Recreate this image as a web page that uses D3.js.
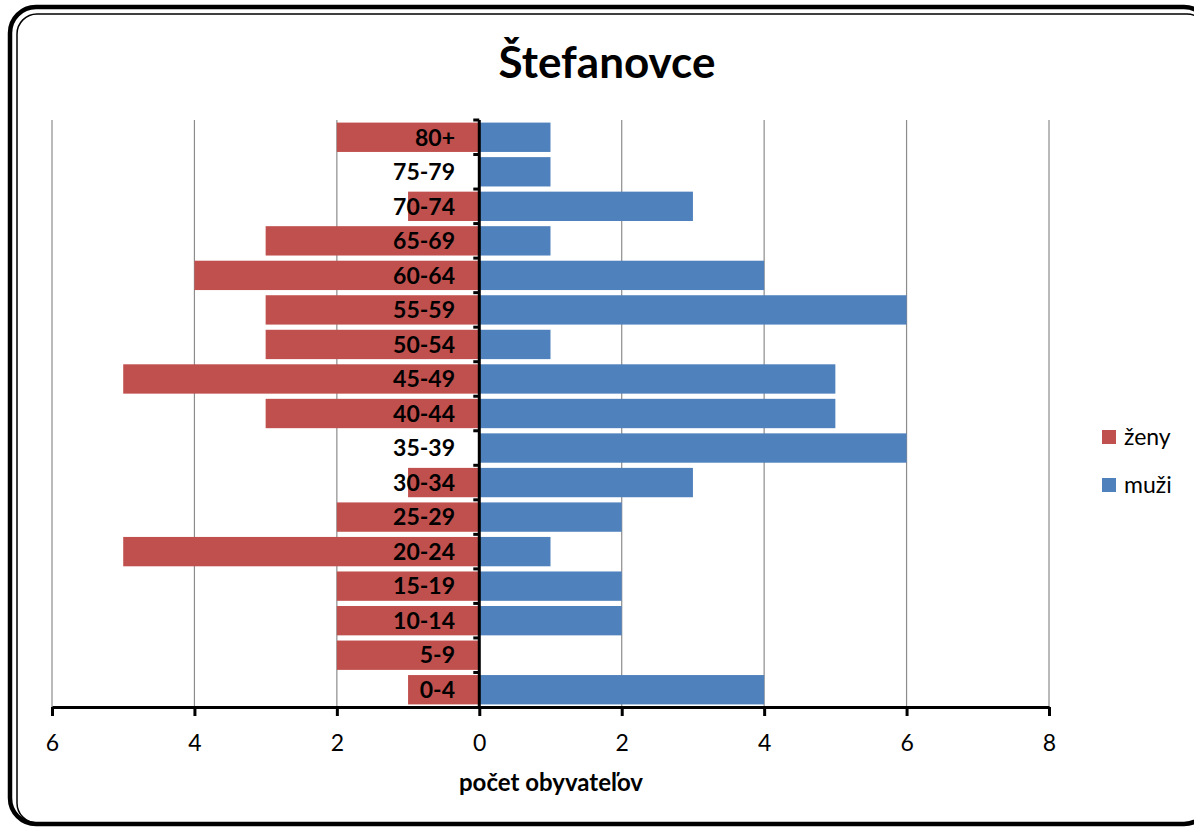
<!DOCTYPE html>
<html>
<head>
<meta charset="utf-8">
<script src="https://cdn.jsdelivr.net/npm/d3@7"></script>
<style>
  body { margin: 0; background: #fff; }
  text { font-family: Lato, "Open Sans", sans-serif; }
</style>
</head>
<body>
<script>
const ageGroups = ["0-4", "5-9", "10-14", "15-19", "20-24", "25-29", "30-34", "35-39",
                   "40-44", "45-49", "50-54", "55-59", "60-64", "65-69", "70-74", "75-79", "80+"];
const zeny = [1, 2, 2, 2, 5, 2, 1, 0, 3, 5, 3, 3, 4, 3, 1, 0, 2];
const muzi = [4, 0, 2, 2, 1, 2, 3, 6, 5, 5, 1, 6, 4, 1, 3, 1, 1];
const xTicks = [-6, -4, -2, 0, 2, 4, 6, 8];

const w = 1194, h = 827;
const svg = d3.select("body").append("svg")
    .attr("width", w)
    .attr("height", h);

// frame: thick outer + thin inner line
svg.append("rect")
    .attr("x", 10).attr("y", 7).attr("width", 1200).attr("height", 817)
    .attr("rx", 26).attr("fill", "none").attr("stroke", "#000").attr("stroke-width", 4.5);
svg.append("rect")
    .attr("x", 17).attr("y", 14).attr("width", 1190).attr("height", 809)
    .attr("rx", 20).attr("fill", "none").attr("stroke", "#000").attr("stroke-width", 1.5);

const x = d3.scaleLinear().domain([-6, 8]).range([52, 1049]);
const y = d3.scaleBand().domain(ageGroups).range([707, 120]).paddingInner(0.15).paddingOuter(0.075);
const step = y.step();

// gridlines
svg.append("g").selectAll("line")
   .data(xTicks.filter(d => d !== 0))
   .enter()
   .append("line")
   .attr("x1", d => x(d)).attr("x2", d => x(d))
   .attr("y1", 120).attr("y2", 707)
   .attr("stroke", "#8c8c8c").attr("stroke-width", 1.2);

// bars
svg.append("g").selectAll("rect")
   .data(ageGroups)
   .enter()
   .append("rect")
   .attr("x", (d, i) => x(-zeny[i]))
   .attr("y", d => y(d))
   .attr("width", (d, i) => x(0) - x(-zeny[i]))
   .attr("height", y.bandwidth())
   .attr("fill", "#C0504D");

svg.append("g").selectAll("rect")
   .data(ageGroups)
   .enter()
   .append("rect")
   .attr("x", x(0))
   .attr("y", d => y(d))
   .attr("width", (d, i) => x(muzi[i]) - x(0))
   .attr("height", y.bandwidth())
   .attr("fill", "#4F81BD");

// x axis
const xAxis = svg.append("g")
    .attr("transform", "translate(0,707)")
    .call(d3.axisBottom(x).tickValues(xTicks).tickFormat(d => Math.abs(d)).tickSize(9).tickSizeOuter(0));
xAxis.select(".domain").attr("stroke", "#000").attr("stroke-width", 3);
xAxis.selectAll(".tick line").attr("stroke", "#000").attr("stroke-width", 3);
xAxis.selectAll(".tick text")
    .attr("y", 28).attr("dy", "0.71em")
    .attr("font-size", 23).attr("fill", "#000")
    .style("font-family", "Lato, 'Open Sans', sans-serif");

// vertical axis at zero with category ticks
const yAxis = svg.append("g")
    .attr("transform", `translate(${x(0)},0)`);
yAxis.append("line")
    .attr("x1", 0).attr("x2", 0).attr("y1", 120).attr("y2", 707)
    .attr("stroke", "#000").attr("stroke-width", 3);
yAxis.selectAll("line.t")
    .data(ageGroups)
    .enter()
    .append("line")
    .attr("class", "t")
    .attr("x1", -6).attr("x2", 0)
    .attr("y1", d => y(d) - step * 0.075).attr("y2", d => y(d) - step * 0.075)
    .attr("stroke", "#000").attr("stroke-width", 3);

// category labels
svg.append("g").selectAll("text")
   .data(ageGroups)
   .enter()
   .append("text")
   .attr("x", 455)
   .attr("y", d => y(d) + y.bandwidth() / 2)
   .attr("dy", "0.36em")
   .attr("text-anchor", "end")
   .attr("font-size", 23)
   .attr("font-weight", "bold")
   .text(d => d);

// title
svg.append("text")
   .attr("x", 607).attr("y", 78)
   .attr("text-anchor", "middle")
   .attr("font-size", 44).attr("font-weight", "bold")
   .text("Štefanovce");

// axis title
svg.append("text")
   .attr("x", 551).attr("y", 791)
   .attr("text-anchor", "middle")
   .attr("font-size", 24).attr("font-weight", "bold")
   .text("počet obyvateľov");

// legend
const legend = [["ženy", "#C0504D"], ["muži", "#4F81BD"]];
const lg = svg.append("g").selectAll("g")
   .data(legend)
   .enter()
   .append("g")
   .attr("transform", (d, i) => `translate(1102,${430 + i * 48})`);
lg.append("rect").attr("width", 14).attr("height", 14).attr("fill", d => d[1]);
lg.append("text").attr("x", 22).attr("y", 7).attr("dy", "0.36em")
  .attr("font-size", 23).text(d => d[0]);
</script>
</body>
</html>
